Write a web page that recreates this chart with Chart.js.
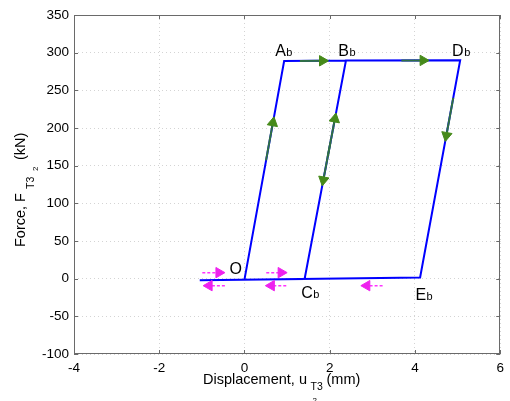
<!DOCTYPE html>
<html><head><meta charset="utf-8">
<script src="https://cdn.jsdelivr.net/npm/chart.js@4/dist/chart.umd.min.js"></script>
<style>html,body{margin:0;padding:0;background:#fff}canvas{display:block}</style>
</head><body>
<canvas id="c" width="510" height="401"></canvas>
<script>
// ---- data (displacement mm, force kN) ----
const pathX = [0.00, 0.93, 2.38, 1.41, -1.05, 1.41, 2.38, 5.06, 4.12, -1.05];
const pathY = [-1.0, 289.0, 289.5, -0.5, -2.0, -0.5, 289.5, 290.0, 1.5, -2.0];

// green direction arrows (head centre, tail start, rotation in degrees)
const gHeadX = [1.83, 4.19, 0.666, 2.12, 1.849, 4.736];
const gHeadY = [289.2, 289.7, 207, 212, 131, 190];
const gTailX = [1.30, 3.68, 0.505, 1.953, 2.016, 4.898];
const gTailY = [289.0, 289.5, 157, 162, 181, 240];
const gRot   = [90, 90, 10.4, 10.4, 190.4, 190.4];

// magenta dashed arrows
const mHeadX = [-0.60, 0.86, -0.83, 0.63, 2.87];
const mTailX = [-0.99, 0.51, -0.46, 0.98, 3.24];
const mY     = [8, 8, -9.3, -9.3, -9.3];
const mRot   = [90, 90, 270, 270, 270];

// point labels
const lblMain = ['O', 'A', 'B', 'C', 'D', 'E'];
const lblSub  = ['', 'b', 'b', 'b', 'b', 'b'];
const lblX    = [-0.35, 0.72, 2.20, 1.33, 4.87, 4.01];
const lblY    = [6.2, 296, 296, -25.6, 296, -27.9];

// axis ticks
const xTicks = [-4, -2, 0, 2, 4, 6];
const yTicks = [-100, -50, 0, 50, 100, 150, 200, 250, 300, 350];

const FONT = '"Liberation Sans", Arial, Helvetica, sans-serif';
const AXIS_COLOR = '#6a6a6a';

const datasets = [];
datasets.push({
  data: pathX.map((x, i) => ({x, y: pathY[i]})),
  showLine: true, borderColor: '#0000ff', borderWidth: 2,
  pointRadius: 0, order: 10
});
gHeadX.forEach((hx, i) => {
  datasets.push({
    data: [{x: gTailX[i], y: gTailY[i]}, {x: hx, y: gHeadY[i]}],
    showLine: true, borderColor: '#2f6f45', borderWidth: 2,
    pointRadius: 0, order: 5
  });
});
datasets.push({
  data: gHeadX.map((x, i) => ({x, y: gHeadY[i]})),
  showLine: false, pointStyle: 'triangle', pointRadius: 6,
  pointRotation: gRot, pointBackgroundColor: '#468a1a',
  pointBorderColor: '#468a1a', pointBorderWidth: 1, order: 1
});
mHeadX.forEach((hx, i) => {
  datasets.push({
    data: [{x: mTailX[i], y: mY[i]}, {x: hx, y: mY[i]}],
    showLine: true, borderColor: '#ff33ff', borderWidth: 1.5,
    borderDash: [3, 2], pointRadius: 0, order: 5
  });
});
datasets.push({
  data: mHeadX.map((x, i) => ({x, y: mY[i]})),
  showLine: false, pointStyle: 'triangle', pointRadius: 6,
  pointRotation: mRot, pointBackgroundColor: '#ee22ee',
  pointBorderColor: '#ee22ee', pointBorderWidth: 1, order: 1
});

function text(ctx, s, x, y, size) {
  ctx.font = size + 'px ' + FONT;
  ctx.fillText(s, x, y);
  return ctx.measureText(s).width;
}

const overlay = {
  id: 'overlay',
  afterDraw(chart) {
    const {ctx, chartArea: a, scales: {x, y}} = chart;
    ctx.save();
    // box
    ctx.strokeStyle = AXIS_COLOR; ctx.lineWidth = 1;
    ctx.strokeRect(Math.round(a.left) + 0.5, Math.round(a.top) + 0.5,
      Math.round(a.right - a.left) - 1, Math.round(a.bottom - a.top) - 1);
    // inward ticks
    ctx.beginPath();
    xTicks.forEach(v => {
      const px = Math.round(x.getPixelForValue(v)) + 0.5;
      ctx.moveTo(px, a.bottom); ctx.lineTo(px, a.bottom - 4);
      ctx.moveTo(px, a.top); ctx.lineTo(px, a.top + 4);
    });
    yTicks.forEach(v => {
      const py = Math.round(y.getPixelForValue(v)) + 0.5;
      ctx.moveTo(a.left, py); ctx.lineTo(a.left + 4, py);
      ctx.moveTo(a.right, py); ctx.lineTo(a.right - 4, py);
    });
    ctx.stroke();

    // point labels
    ctx.fillStyle = '#000';
    ctx.textBaseline = 'alphabetic';
    ctx.textAlign = 'left';
    lblMain.forEach((m, i) => {
      const px = x.getPixelForValue(lblX[i]);
      const py = y.getPixelForValue(lblY[i]);
      const w = text(ctx, m, px, py, 16);
      if (lblSub[i]) text(ctx, lblSub[i], px + w + 0.5, py, 11);
    });

    // x axis title
    text(ctx, 'Displacement, u', 203, 384, 14.5);
    text(ctx, 'T3', 310.5, 390, 10.5);
    text(ctx, '2', 312.5, 403, 8);
    text(ctx, '(mm)', 326.5, 384, 14.5);

    // y axis title (rotated)
    ctx.save();
    ctx.rotate(-Math.PI / 2);
    text(ctx, 'Force, F', -247, 25, 14.5);
    text(ctx, 'T3', -189, 34, 10.5);
    text(ctx, '2', -171, 38, 8);
    text(ctx, '(kN)', -160, 25, 14.5);
    ctx.restore();

    ctx.restore();
  }
};

new Chart(document.getElementById('c'), {
  type: 'scatter',
  data: {datasets},
  options: {
    responsive: false, animation: false, devicePixelRatio: 1,
    layout: {padding: {top: 15, right: 4, left: 0, bottom: 0}},
    plugins: {legend: {display: false}, tooltip: {enabled: false}},
    scales: {
      x: {
        type: 'linear', min: -4, max: 6,
        afterBuildTicks: s => { s.ticks = xTicks.map(v => ({value: v})); },
        afterFit: s => { s.height = 47; },
        grid: {color: '#d4d4d4', drawTicks: false, lineWidth: 1},
        border: {display: false, dash: [1, 3]},
        ticks: {color: '#000', font: {family: FONT, size: 13.5}, padding: 6, maxRotation: 0}
      },
      y: {
        type: 'linear', min: -100, max: 350,
        afterBuildTicks: s => { s.ticks = yTicks.map(v => ({value: v})); },
        afterFit: s => { s.width = 74; },
        grid: {color: '#d4d4d4', drawTicks: false, lineWidth: 1},
        border: {display: false, dash: [1, 3]},
        ticks: {color: '#000', font: {family: FONT, size: 13.5}, padding: 5}
      }
    }
  },
  plugins: [overlay]
});
</script>
</body></html>
